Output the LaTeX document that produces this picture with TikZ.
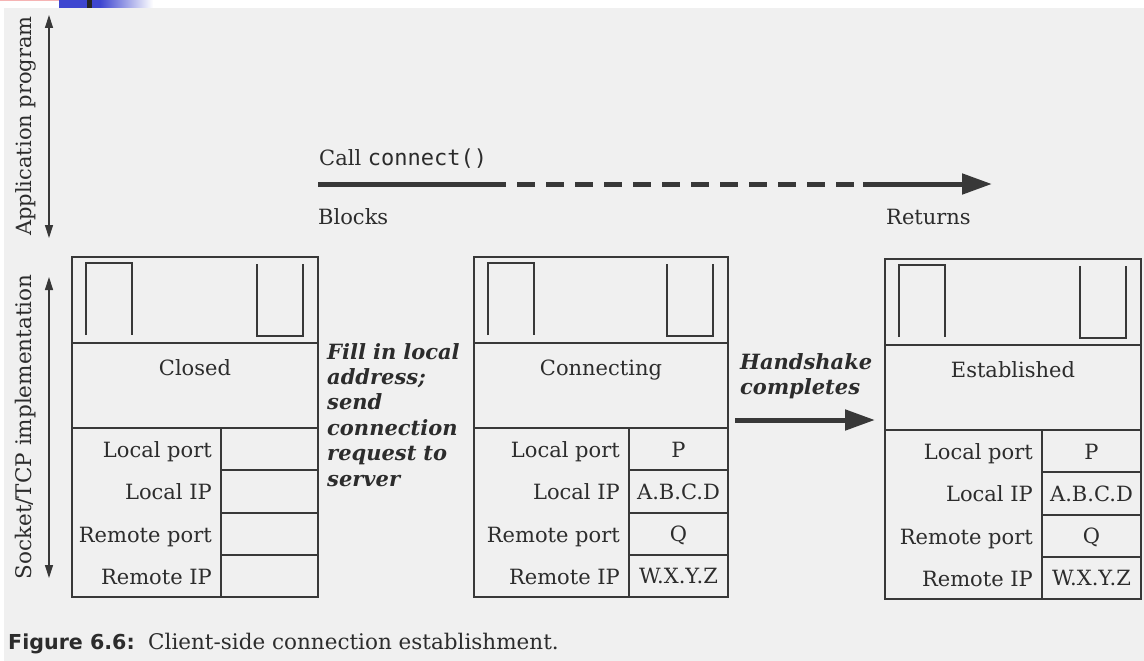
\documentclass[tikz,border=0pt]{standalone}
\usepackage{fontspec}
\setmainfont{DejaVu Serif}
\setsansfont{DejaVu Sans}
\setmonofont{DejaVu Sans Mono}
\usetikzlibrary{arrows.meta}

\definecolor{paper}{HTML}{F0F0F0}
\definecolor{ink}{HTML}{383838}
\definecolor{textink}{HTML}{2C2C2C}
\definecolor{slideblue}{HTML}{3E46D0}
\definecolor{slidepink}{HTML}{F6B4B4}

\tikzset{
  frame/.style={draw=ink, line width=1.5pt},
  boxframe/.style={frame, rectangle, inner sep=0pt, outer sep=0pt, anchor=north west},
  txt/.style={text=textink, inner sep=0pt, font=\fontsize{21}{25}\selectfont},
  statelbl/.style={txt, anchor=base},
  rowlbl/.style={txt, anchor=base east},
  rowval/.style={txt, anchor=base},
  sidelbl/.style={txt, rotate=90, anchor=base},
  note/.style={txt, anchor=base west, text width=150pt, align=left,
    font=\fontsize{21}{25.4}\selectfont\bfseries\itshape},
  thin arrow/.style={draw=ink, line width=1.3pt,
    {Triangle[length=13pt,width=8pt]}-{Triangle[length=13pt,width=8pt]}},
  bold line/.style={draw=ink, line width=5pt},
  bold arrow/.style={bold line, -{Triangle[length=30pt,width=20pt]}},
}

% #1 name, #2 left x, #3 top y, #4 width, #5 label column width,
% #6 state text, #7 list of the four field values
\newcommand\sockbox[7]{%
  \begin{scope}[shift={(#2,#3)}]
    \node[boxframe, minimum width=#4, minimum height=340] (#1) at (0,0) {};
    \draw[frame] (0,86) -- (#4,86);
    \draw[frame] (0,171) -- (#4,171);
    \draw[frame] (#5,171) -- (#5,340);
    \foreach \yy in {213,256,298} \draw[frame] (#5,\yy) -- (#4,\yy);
    % send buffer and receive buffer
    \draw[frame] (14,78) -- (14,6) -- (60,6) -- (60,78);
    \draw[frame] (#4-61,7) -- (#4-61,79) -- (#4-15,79) -- (#4-15,7);
    \node[statelbl] (#1-state) at (#4/2,118) {#6};
    \node[rowlbl] (#1-lport) at (#5-9,200) {Local port};
    \node[rowlbl] (#1-lip)   at (#5-9,242) {Local IP};
    \node[rowlbl] (#1-rport) at (#5-9,285) {Remote port};
    \node[rowlbl] (#1-rip)   at (#5-9,327) {Remote IP};
    \foreach \v [count=\i] in {#7}
      \node[rowval] (#1-val\i) at ({(#4+#5)/2}, {200+42.3*(\i-1)}) {\v};
  \end{scope}%
}

\begin{document}
\begin{tikzpicture}[x=1pt,y=-1pt]
  \useasboundingbox (0,0) rectangle (1144,661);
  \fill[white] (0,0) rectangle (1144,661);
  \fill[paper] (4,8) rectangle (1144,661);

  % strip along the top edge
  \fill[slidepink] (0,0) rectangle (78,1.5);
  \fill[slideblue] (59,0) rectangle (100.5,8);
  \shade[left color=slideblue, right color=white] (100,0) rectangle (153,8);
  \fill[black!85] (87,0) rectangle (92,8);

  % layer arrows on the left
  \coordinate (app-top) at (49,15);
  \coordinate (app-bot) at (49,238);
  \draw[thin arrow] (app-top) -- (app-bot);
  \node[sidelbl] (app-lbl) at (31,126) {Application program};

  \coordinate (tcp-top) at (49,277);
  \coordinate (tcp-bot) at (49,578);
  \draw[thin arrow] (tcp-top) -- (tcp-bot);
  \node[sidelbl, font=\fontsize{21.5}{25}\selectfont] (tcp-lbl) at (31,427)
    {Socket/TCP implementation};

  % the three socket states
  \sockbox{closed}{72}{257}{246}{149}{Closed}{{},{},{},{}}
  \sockbox{conn}{474}{257}{254}{155}{Connecting}{P,A.B.C.D,Q,W.X.Y.Z}
  \sockbox{est}{885}{259}{256}{157}{Established}{P,A.B.C.D,Q,W.X.Y.Z}

  % application call timeline
  \node[txt, anchor=base west] (call) at (319,165)
    {Call {\fontsize{22}{25}\ttfamily connect()}};
  \node[txt, anchor=base west] (blocks) at (318,224) {Blocks};
  \node[txt, anchor=base west] (returns) at (886,224) {Returns};
  \coordinate (c0) at (318,184);
  \coordinate (c1) at (506,184);
  \coordinate (c2) at (863,184);
  \coordinate (c3) at (992,184);
  \draw[bold line] (c0) -- (c1);
  \draw[bold line, dash pattern=on 18pt off 11pt, dash phase=18pt] (c1) -- (c2);
  \draw[bold arrow] (c2) -- (c3);

  % transitions
  \node[note] (fill) at (327,359)
    {Fill in local\\address;\\send\\connection\\request to\\server};
  \node[note] (hs) at (740,369) {Handshake\\completes};
  \draw[bold arrow] ([shift={(7,-7)}]conn.east) -- ([shift={(-10,-9)}]est.west);

  % caption
  \node[anchor=base west, inner sep=0pt, text=textink,
    font=\fontsize{20.6}{24}\sffamily\bfseries] (fig-num) at (8,649) {Figure 6.6:};
  \node[anchor=base west, inner sep=0pt, text=textink,
    font=\fontsize{21.5}{24}\selectfont] (fig-title) at (148,649)
    {Client-side connection establishment.};
\end{tikzpicture}
\end{document}
